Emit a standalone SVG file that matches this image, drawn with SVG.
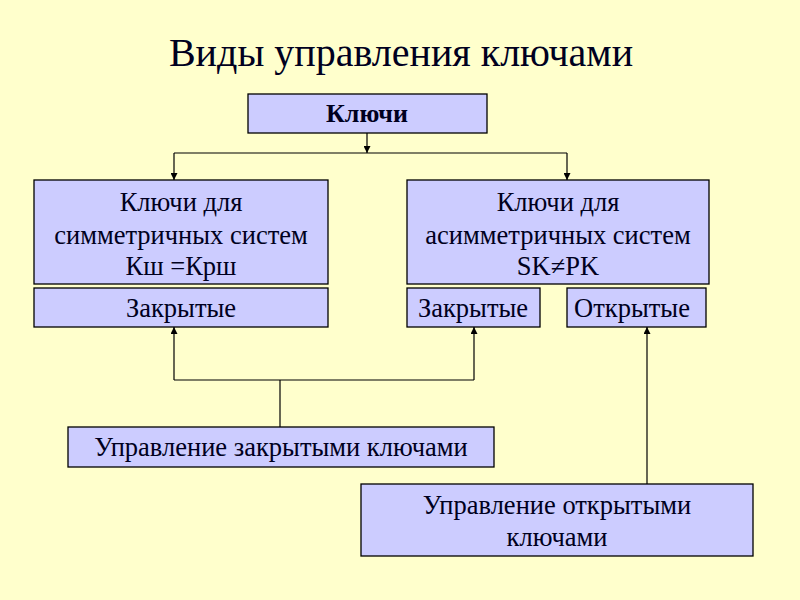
<svg xmlns="http://www.w3.org/2000/svg" width="800" height="600" viewBox="0 0 800 600">
<defs>
<style>
.box{fill:#CCCCFF;stroke:#000;stroke-width:1.3}
.t{font-family:"Liberation Serif","DejaVu Serif",serif;font-size:26.5px;fill:#000020;text-anchor:middle}
.ln{fill:none;stroke:#000;stroke-width:1.2}
</style>
<marker id="ah" viewBox="0 0 10 10" refX="10" refY="5" markerWidth="7" markerHeight="7" markerUnits="userSpaceOnUse" orient="auto">
<path d="M0,0 L10,5 L0,10 Z" fill="#000"/>
</marker>
</defs>
<rect width="800" height="600" fill="#FFFFCC"/>
<text x="401" y="66" class="t" style="font-size:40px">Виды управления ключами</text>
<g id="keys"><rect class="box" x="248" y="94" width="239" height="39"/><text x="367" y="122" class="t" style="font-weight:bold;font-size:26px">Ключи</text></g>
<g id="sym"><rect class="box" x="34" y="180" width="294" height="104"/>
<text x="181" y="211" class="t">Ключи для</text><text x="181" y="244" class="t">симметричных систем</text><text x="181" y="275" class="t">Кш =Крш</text></g>
<g id="asym"><rect class="box" x="407" y="180" width="302" height="104"/>
<text x="558" y="211" class="t">Ключи для</text><text x="558" y="244" class="t">асимметричных систем</text><text x="558" y="275" class="t">SK≠PK</text></g>
<g id="closed1"><rect class="box" x="34" y="288" width="294" height="39"/><text x="181" y="317" class="t">Закрытые</text></g>
<g id="closed2"><rect class="box" x="407" y="288" width="133" height="39"/><text x="473" y="317" class="t">Закрытые</text></g>
<g id="open"><rect class="box" x="567" y="288" width="139" height="39"/><text x="632" y="317" class="t">Открытые</text></g>
<g id="mgmtClosed"><rect class="box" x="68" y="427" width="426" height="40"/><text x="281" y="456" class="t">Управление закрытыми ключами</text></g>
<g id="mgmtOpen"><rect class="box" x="361" y="484" width="392" height="72"/><text x="557" y="514" class="t">Управление открытыми</text><text x="557" y="546" class="t">ключами</text></g>
<g id="connectors">
<path class="ln" d="M367,133 V153" marker-end="url(#ah)"/>
<path class="ln" d="M174,153 H567"/>
<path class="ln" d="M174,153 V180" marker-end="url(#ah)"/>
<path class="ln" d="M567,153 V180" marker-end="url(#ah)"/>
<path class="ln" d="M174,380 H474"/>
<path class="ln" d="M174,380 V327" marker-end="url(#ah)"/>
<path class="ln" d="M474,380 V327" marker-end="url(#ah)"/>
<path class="ln" d="M280,380 V427"/>
<path class="ln" d="M647,484 V327" marker-end="url(#ah)"/>
</g>
</svg>
